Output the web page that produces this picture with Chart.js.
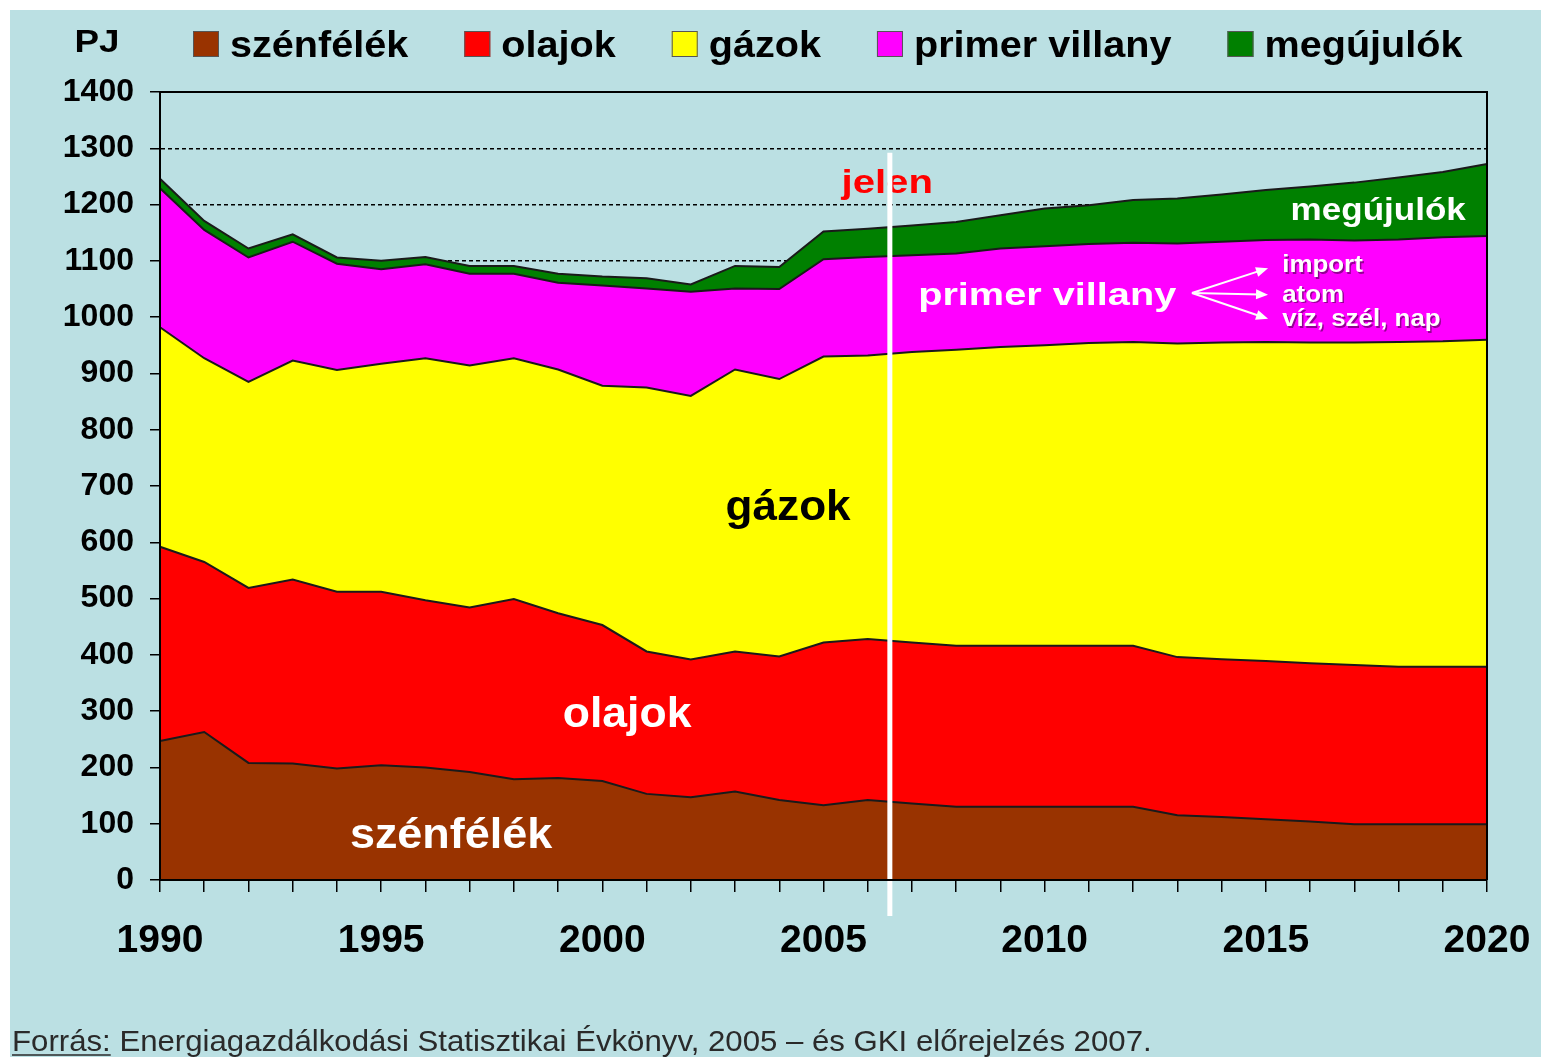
<!DOCTYPE html>
<html lang="hu">
<head>
<meta charset="utf-8">
<title>Primer energiafelhasználás, PJ</title>
<script src="https://cdn.jsdelivr.net/npm/chart.js@4.4.1/dist/chart.umd.min.js"></script>
<style>
  html, body { margin: 0; padding: 0; background: #fff; }
  #wrap { width: 1541px; height: 1057px; }
</style>
</head>
<body>
<div id="wrap"><canvas id="energy-chart" width="1541" height="1057"></canvas></div>
<script>
/* ===============================
   DATA (PJ)
================================= */
const YEARS = ["1990","1991","1992","1993","1994","1995","1996","1997","1998","1999",
               "2000","2001","2002","2003","2004","2005","2006","2007","2008","2009",
               "2010","2011","2012","2013","2014","2015","2016","2017","2018","2019","2020"];
const LABELLED_YEARS = ["1990","1995","2000","2005","2010","2015","2020"];

const COAL   = [247,263,208,207,198,204,200,192,179,181,176,153,147,157,142,133,142,136,130,130,130,130,130,115,112,108,104,99,99,99,99];
const OIL    = [345,302,311,327,314,308,297,292,320,293,277,253,245,249,255,289,286,286,286,286,286,286,286,281,280,281,281,283,280,280,280];
const GAS    = [390,362,366,389,394,405,430,430,428,433,425,469,468,501,493,508,504,516,526,531,534,538,540,557,563,567,570,573,577,578,581];
const PRIMER = [247,228,221,211,189,168,167,163,150,154,178,176,185,144,160,173,175,172,171,175,176,176,176,178,179,181,183,181,182,185,184];
const RENEW  = [17,16,16,13,11,15,13,14,14,16,16,18,13,40,39,49,50,53,56,59,67,69,76,80,84,89,94,103,110,116,128];

const SERIES_NAMES = ["szénfélék", "olajok", "gázok", "primer villany", "megújulók"];
const SERIES_COLORS = ["#993300", "#FF0000", "#FFFF00", "#FF00FF", "#008000"];

const PRESENT_YEAR = 2006.5; // "jelen"

/* ===============================
   STYLE
================================= */
const FONT = '"Liberation Sans", Arial, sans-serif';
const PANEL_BG = "#BBE0E3";

Chart.defaults.font.family = FONT;
Chart.defaults.color = "#000";

/* ===============================
   HELPERS
================================= */
function drawText(ctx, text, x, y, o) {
  ctx.save();
  ctx.font = o.font;
  ctx.textAlign = o.align || "center";
  ctx.textBaseline = "alphabetic";
  ctx.translate(x, y);
  ctx.scale(o.sx || 1, 1);
  if (o.shadow) {
    ctx.fillStyle = o.shadow;
    ctx.fillText(text, 1.5 / (o.sx || 1), 1.5);
  }
  ctx.fillStyle = o.color || "#000";
  ctx.fillText(text, 0, 0);
  ctx.restore();
}

function arrow(ctx, x1, y1, x2, y2) {
  const a = Math.atan2(y2 - y1, x2 - x1);
  ctx.beginPath();
  ctx.moveTo(x1, y1);
  ctx.lineTo(x2 - 8 * Math.cos(a), y2 - 8 * Math.sin(a));
  ctx.stroke();
  ctx.beginPath();
  ctx.moveTo(x2, y2);
  ctx.lineTo(x2 - 12 * Math.cos(a) + 5 * Math.sin(a), y2 - 12 * Math.sin(a) - 5 * Math.cos(a));
  ctx.lineTo(x2 - 12 * Math.cos(a) - 5 * Math.sin(a), y2 - 12 * Math.sin(a) + 5 * Math.cos(a));
  ctx.closePath();
  ctx.fill();
}

/* ===============================
   PLUGINS
================================= */
const panelPlugin = {
  id: "panel",
  beforeDraw(chart) {
    const ctx = chart.ctx;
    ctx.save();
    ctx.fillStyle = "#fff";
    ctx.fillRect(0, 0, chart.width, chart.height);
    ctx.fillStyle = PANEL_BG;
    ctx.fillRect(10, 10, chart.width - 10, chart.height - 10);
    ctx.restore();
  }
};

// in-chart labels, "jelen" line, frame
const notesPlugin = {
  id: "notes",
  afterDatasetsDraw(chart) {
    const ctx = chart.ctx;
    const xs = chart.scales.x, ys = chart.scales.y;
    const px = yr => xs.getPixelForValue(yr - 1990);
    const py = v => ys.getPixelForValue(v);
    const area = chart.chartArea;

    // frame top + right
    ctx.save();
    ctx.strokeStyle = "#000";
    ctx.lineWidth = 2;
    ctx.beginPath();
    ctx.moveTo(area.left, area.top);
    ctx.lineTo(area.right, area.top);
    ctx.lineTo(area.right, area.bottom);
    ctx.stroke();
    ctx.restore();

    const bold = s => `bold ${s}px ${FONT}`;
    drawText(ctx, "gázok", px(2004.2), py(640), { font: bold(42), sx: 1.05 });
    drawText(ctx, "olajok", px(2000.56), py(272), { font: bold(42), color: "#fff", sx: 1.06 });
    drawText(ctx, "szénfélék", px(1996.58), py(57), { font: bold(42), color: "#fff", sx: 1.07 });
    drawText(ctx, "megújulók", px(2017.54), py(1173), { font: bold(31), color: "#fff", sx: 1.13 });
    drawText(ctx, "primer villany", px(2007.14), py(1022), { font: bold(32), color: "#fff", sx: 1.24, align: "left" });

    const small = { font: bold(24), color: "#fff", sx: 1.08, align: "left", shadow: "rgba(60,0,60,0.55)" };
    drawText(ctx, "import", px(2015.37), py(1080), small);
    drawText(ctx, "atom", px(2015.37), py(1027), small);
    drawText(ctx, "víz, szél, nap", px(2015.37), py(984), small);

    ctx.save();
    ctx.strokeStyle = "#fff";
    ctx.fillStyle = "#fff";
    ctx.lineWidth = 2;
    const ox = px(2013.33), oy = py(1043);
    [1087, 1040, 997].forEach(v => arrow(ctx, ox, oy, px(2015.05), py(v)));
    ctx.restore();

    drawText(ctx, "jelen", px(2006.44), py(1221), { font: bold(34), color: "#FF0000", sx: 1.18 });

    // present-year divider
    ctx.save();
    ctx.strokeStyle = "#fff";
    ctx.lineWidth = 5;
    ctx.beginPath();
    ctx.moveTo(px(PRESENT_YEAR), py(1292));
    ctx.lineTo(px(PRESENT_YEAR), py(-64));
    ctx.stroke();
    ctx.restore();
  }
};

// legend row with "PJ" unit, plus source line
const legendPlugin = {
  id: "legendRow",
  afterDraw(chart) {
    const ctx = chart.ctx;
    drawText(ctx, "PJ", 97, 52, { font: `bold 32px ${FONT}`, sx: 1.15 });

    const sx = 1.1;
    let x = 193;
    chart.data.datasets.forEach(ds => {
      ctx.save();
      ctx.fillStyle = ds.backgroundColor;
      ctx.fillRect(x, 31, 26, 26);
      ctx.strokeStyle = "#555";
      ctx.lineWidth = 1;
      ctx.strokeRect(x + 0.5, 31.5, 25, 25);
      ctx.font = `bold 36px ${FONT}`;
      const w = ctx.measureText(ds.label).width * sx;
      ctx.restore();
      drawText(ctx, ds.label, x + 37, 57, { font: `bold 36px ${FONT}`, sx, align: "left" });
      x += 37 + w + 56;
    });

    // source
    const srcFont = `29px ${FONT}`;
    const ssx = 1.075;
    const lead = "Forrás:";
    ctx.save();
    ctx.font = srcFont;
    const lw = ctx.measureText(lead).width * ssx;
    ctx.restore();
    drawText(ctx, lead, 12, 1051, { font: srcFont, color: "#2a2a2a", sx: ssx, align: "left" });
    drawText(ctx, " Energiagazdálkodási Statisztikai Évkönyv, 2005 – és GKI előrejelzés 2007.",
      12 + lw, 1051, { font: srcFont, color: "#2a2a2a", sx: ssx, align: "left" });
    ctx.save();
    ctx.strokeStyle = "#2a2a2a";
    ctx.lineWidth = 1.5;
    ctx.beginPath();
    ctx.moveTo(12, 1055);
    ctx.lineTo(12 + lw, 1055);
    ctx.stroke();
    ctx.restore();
  }
};

/* ===============================
   CHART
================================= */
const seriesValues = [COAL, OIL, GAS, PRIMER, RENEW];

new Chart(document.getElementById("energy-chart"), {
  type: "line",
  data: {
    labels: YEARS,
    datasets: seriesValues.map((vals, i) => ({
      label: SERIES_NAMES[i],
      data: vals,
      backgroundColor: SERIES_COLORS[i],
      borderColor: "#1a1a1a",
      borderWidth: 2,
      fill: i === 0 ? "origin" : "-1",
      pointRadius: 0,
      tension: 0,
    })),
  },
  options: {
    responsive: false,
    animation: false,
    events: [],
    layout: { padding: { top: 92, right: 54, bottom: 0, left: 10 } },
    plugins: {
      legend: { display: false },
      tooltip: { enabled: false },
    },
    scales: {
      x: {
        type: "category",
        offset: false,
        afterFit: s => { s.height = 177; s.paddingLeft = 0; s.paddingRight = 0; },
        grid: { drawOnChartArea: false, drawTicks: true, tickLength: 12, color: "#000", lineWidth: 1.5 },
        border: { display: true, color: "#000", width: 2, z: 1 },
        ticks: {
          autoSkip: false,
          maxRotation: 0,
          padding: 26,
          font: { size: 39, weight: "bold" },
          color: "#000",
          callback(value) {
            const lbl = this.getLabelForValue(value);
            return LABELLED_YEARS.includes(lbl) ? lbl : "";
          },
        },
      },
      y: {
        stacked: true,
        min: 0,
        max: 1400,
        afterFit: s => { s.width = 150; s.paddingTop = 0; s.paddingBottom = 0; },
        grid: { color: "#000", lineWidth: 1.5, tickLength: 10, tickColor: "#000", tickWidth: 1.5 },
        border: { display: true, color: "#000", width: 2, z: 1, dash: [4, 3] },
        ticks: {
          stepSize: 100,
          padding: 16,
          font: { size: 32, weight: "bold" },
          color: "#000",
          callback: v => String(v),
        },
      },
    },
  },
  plugins: [panelPlugin, notesPlugin, legendPlugin],
});
</script>
</body>
</html>
